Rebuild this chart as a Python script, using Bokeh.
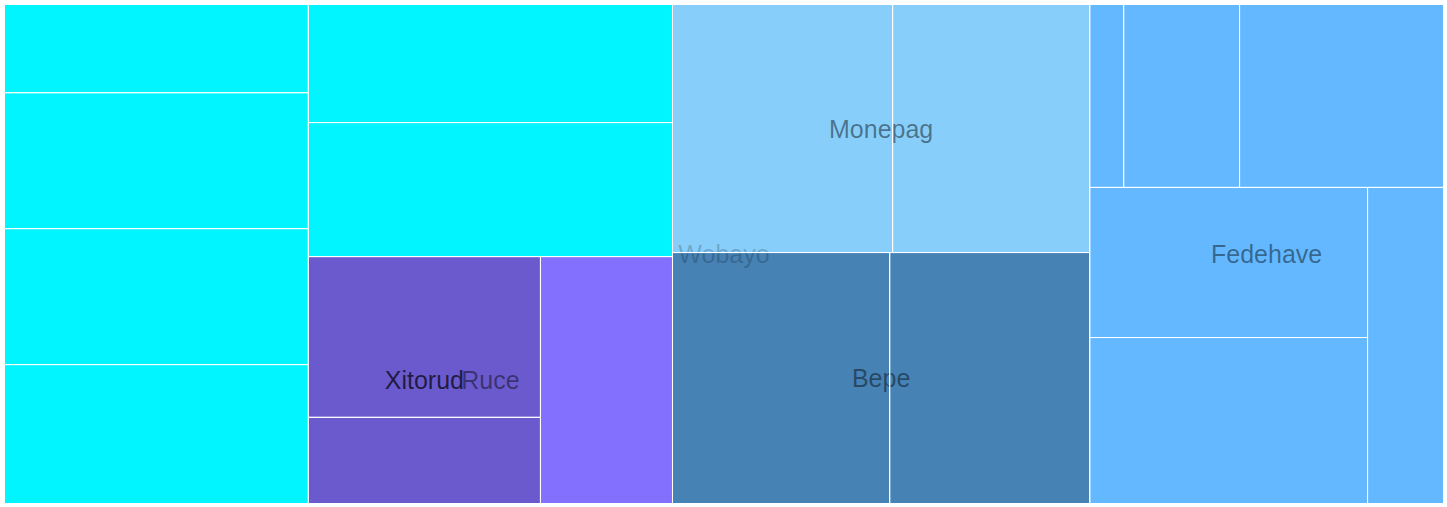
from bokeh.plotting import figure
from bokeh.models import ColumnDataSource, Range1d
from bokeh.embed import file_html
from bokeh.resources import INLINE
from bokeh.core.properties import value

# ---- data -------------------------------------------------------------
root_name = "Wobayo"
group_names = ["Ruce", "Xitorud", "Monepag", "Bepe", "Fedehave"]
group_parents = ["Wobayo", "Ruce", "Wobayo", "Wobayo", "Wobayo"]

wobayo_leaves = [268, 413, 413, 422, 430, 488]
ruce_leaves = [326]
xitorud_leaves = [373, 200]
monepag_leaves = [546, 489]
bepe_leaves = [545, 502]
fedehave_leaves = [62, 212, 373, 417, 461, 240]

group_colors = {
    "Wobayo": "#00F5FF",
    "Ruce": "#8470FF",
    "Xitorud": "#6A5ACD",
    "Monepag": "#87CEFA",
    "Bepe": "#4682B4",
    "Fedehave": "#63B8FF",
}

# ---- layout settings ----------------------------------------------------
X0, Y0, X1, Y1 = 4, 4, 1443, 503
row_counts = {"Wobayo": [4, 3, 2, 1], "Fedehave": [3, 2, 1]}
label_alpha = [0.2, 0.45, 0.7]

# ---- build tree ----------------------------------------------------------
def leaves(vals):
    return [("leaf", v) for v in vals]

xitorud = ("Xitorud", leaves(xitorud_leaves))
ruce = ("Ruce", [xitorud] + leaves(ruce_leaves))
monepag = ("Monepag", leaves(monepag_leaves))
bepe = ("Bepe", leaves(bepe_leaves))
fedehave = ("Fedehave", leaves(fedehave_leaves))
tree = (root_name, leaves(wobayo_leaves) + [ruce, monepag, bepe, fedehave])


def val(node):
    name, kids = node
    if name == "leaf":
        return kids
    return sum(val(k) for k in kids)


rects = dict(left=[], right=[], top=[], bottom=[], color=[])
labels = dict(x=[], y=[], text=[], alpha=[], depth=[])


def place(node, x0, y0, x1, y1, parent, depth):
    name, kids = node
    if name == "leaf":
        rects["left"].append(x0)
        rects["right"].append(x1)
        rects["top"].append(y0)
        rects["bottom"].append(y1)
        rects["color"].append(group_colors[parent])
    else:
        labels["x"].append((x0 + x1) / 2)
        labels["y"].append((y0 + y1) / 2)
        labels["text"].append(name)
        labels["alpha"].append(label_alpha[min(depth, len(label_alpha) - 1)])
        labels["depth"].append(depth)
        layout(node, x0, y0, x1, y1, depth)


def layout(node, x0, y0, x1, y1, depth):
    name, kids = node
    remaining = sum(val(k) for k in kids)
    counts = row_counts.get(name, [1] * len(kids))
    i = 0
    for cnt in counts:
        row = kids[i:i + cnt]
        i += cnt
        rsum = sum(val(k) for k in row)
        dx, dy = x1 - x0, y1 - y0
        if dx < dy:
            yk = y0 + dy * rsum / remaining
            xx = x0
            for k in row:
                w = dx * val(k) / rsum
                place(k, xx, y0, xx + w, yk, name, depth + 1)
                xx += w
            y0 = yk
        else:
            xk = x0 + dx * rsum / remaining
            yy = y0
            for k in row:
                h = dy * val(k) / rsum
                place(k, x0, yy, xk, yy + h, name, depth + 1)
                yy += h
            x0 = xk
        remaining -= rsum


place(tree, X0, Y0, X1, Y1, None, 0)

# ---- plot ----------------------------------------------------------------
p = figure(width=1447, height=507, x_range=Range1d(0, 1447), y_range=Range1d(507, 0),
           output_backend="svg", toolbar_location=None, x_axis_type=None, y_axis_type=None,
           min_border=0, outline_line_color=None,
           background_fill_color="white", border_fill_color="white")

rsrc = ColumnDataSource(rects)
p.quad(left="left", right="right", top="top", bottom="bottom", source=rsrc,
       fill_color="color", line_color=None)

lsrc = ColumnDataSource(labels)
p.text(x="x", y="y", text="text", source=lsrc, text_align="center", text_baseline="middle",
       text_font=value("Liberation Sans"), text_font_size="25px", text_color="black",
       text_alpha="alpha")

p.quad(left="left", right="right", top="top", bottom="bottom", source=rsrc,
       fill_alpha=0, line_color="white", line_width=1)

open("out.html", "w").write(file_html(p, INLINE))
